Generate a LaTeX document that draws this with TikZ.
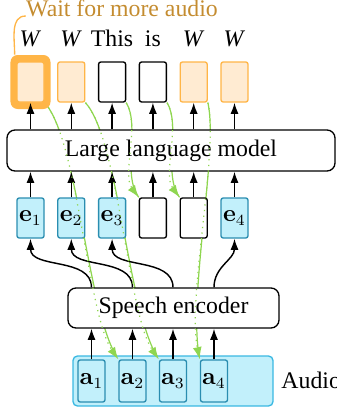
\documentclass[tikz,border=0pt]{standalone}
\usepackage[no-math]{fontspec}
\setmainfont{Liberation Serif}
\usetikzlibrary{arrows.meta,calc}
\definecolor{oFill}{HTML}{FFEBD2}
\definecolor{oBorder}{HTML}{FFB547}
\definecolor{oText}{HTML}{C48C30}
\definecolor{cFill}{HTML}{C2F0FB}
\definecolor{eBorder}{HTML}{2A8DB0}
\definecolor{aOuter}{HTML}{3AB8E2}
\definecolor{gGreen}{HTML}{8FD650}
\pgfdeclarelayer{gbase}
\pgfdeclarelayer{gdot}
\pgfdeclarelayer{top}
\pgfsetlayers{gbase,main,gdot,top}
\begin{document}
\begin{tikzpicture}[x=0.45pt,y=-0.45pt,
  every node/.append style={font=\fontsize{10.7}{13}\selectfont},
  sbox/.style={line width=0.6pt, rounded corners=1pt, minimum width=12.15pt, minimum height=18pt, inner sep=0pt},
  obox/.style={sbox, draw=oBorder, fill=oFill},
  wbox/.style={sbox, draw=black, fill=white},
  ebox/.style={sbox, draw=eBorder, fill=cFill},
  abox/.style={sbox, draw=eBorder, fill=cFill, minimum height=18.9pt},
  bigbox/.style={draw=black, fill=white, line width=0.6pt, rounded corners=3.6pt, inner sep=0pt},
  arr/.style={-{Latex[length=5pt,width=3.6pt]}, line width=0.65pt},
  gsolid/.style={draw=gGreen, line width=0.55pt},
  gdotted/.style={gsolid, dotted, -{Latex[length=5.5pt,width=4pt]}},
  lbl/.style={anchor=base, inner sep=0pt}
]
\useasboundingbox (0,0) rectangle (337,410);

% big boxes
\node[bigbox, minimum width=147.6pt, minimum height=18.45pt] (llm) at (171,150.5) {Large language model};
\node[bigbox, minimum width=94.95pt, minimum height=18pt] (enc) at (173.5,308) {Speech encoder};
\node[draw=aOuter, fill=cFill, line width=0.6pt, rounded corners=2pt, minimum width=90pt, minimum height=22.5pt, inner sep=0pt] (aud) at (173,381) {};
\node[anchor=base west, inner sep=0pt] (audl) at (281,388) {Audio};

% embedding row
\node[ebox] (e1) at (30.5,218) {$\mathbf{e}_1$};
\node[ebox] (e2) at (71.3,218) {$\mathbf{e}_2$};
\node[ebox] (e3) at (112.1,218) {$\mathbf{e}_3$};
\node[wbox] (b4) at (152.9,218) {};
\node[wbox] (b5) at (193.7,218) {};
\node[ebox] (e4) at (234.5,218) {$\mathbf{e}_4$};

% audio frames
\node[abox] (a1) at (91.5,381) {$\mathbf{a}_1$};
\node[abox] (a2) at (132.5,381) {$\mathbf{a}_2$};
\node[abox] (a3) at (173,381) {$\mathbf{a}_3$};
\node[abox] (a4) at (214,381) {$\mathbf{a}_4$};

% output row (top layer)
\begin{pgfonlayer}{top}
\node[fill=oBorder, rounded corners=3.2pt, minimum width=18pt, minimum height=24.3pt, inner sep=0pt] (hl) at (30.5,82) {};
\node[obox] (o1) at (30.5,82) {};
\node[obox] (o2) at (71.3,82) {};
\node[wbox] (o3) at (112.1,82) {};
\node[wbox] (o4) at (152.9,82) {};
\node[obox] (o5) at (193.7,82) {};
\node[obox] (o6) at (234.5,82) {};
\node[lbl] (w1) at (30.5,46) {\textit{W}};
\node[lbl] (w2) at (71.3,46) {\textit{W}};
\node[lbl] (w3) at (112.1,46) {This};
\node[lbl] (w4) at (152.9,46) {is};
\node[lbl] (w5) at (193.7,46) {\textit{W}};
\node[lbl] (w6) at (234.5,46) {\textit{W}};
\node[lbl, text=oText] (wait) at (122,16) {Wait for more audio};
\draw[oBorder, line width=0.6pt] (wait.base west) to[out=180,in=90] (hl.120);
% arrows LLM -> outputs
\foreach \i in {1,...,6} {
  \draw[arr] (o\i |- llm.north) -- (o\i.south);
}
\end{pgfonlayer}

% arrows embeddings -> LLM
\foreach \n in {e1,e2,e3,b4,b5,e4} {
  \draw[arr] (\n.north) -- (\n |- llm.south);
}
% arrows audio -> encoder
\foreach \n in {a1,a2,a3,a4} {
  \draw[arr] (\n.north) -- (\n |- enc.south);
}
% encoder -> embeddings
\draw[arr] (a1 |- enc.north) to[out=90,in=-90] (e1.south);
\draw[arr] (a2 |- enc.north) to[out=90,in=-90] (e2.south);
\draw[arr] (a3 |- enc.north) to[out=90,in=-90] (e3.south);
\draw[arr] (a4 |- enc.north) to[out=90,in=-90] (e4.south);

% green delay links: solid underneath, dotted on top
\foreach \lay/\sty in {gbase/gsolid, gdot/gdotted} {
\begin{pgfonlayer}{\lay}
\draw[\sty] (o1.south east) to[out=-48.2,in=124.6,out distance=22.9pt,in distance=24.6pt] (a2.north west);
\draw[\sty] (o2.south east) to[out=-48.2,in=124.6,out distance=22.9pt,in distance=24.6pt] (a3.north west);
\draw[\sty] (o3.south east) to[out=-58.7,in=126.5,out distance=12.1pt,in distance=12.9pt] (b4.north west);
\draw[\sty] (o4.south east) to[out=-58.7,in=126.5,out distance=12.1pt,in distance=12.9pt] (b5.north west);
\draw[\sty] (o5.south east) to[out=-77,in=102.2,out distance=22.2pt,in distance=27.6pt] (a4.north west);
\end{pgfonlayer}
}
\end{tikzpicture}
\end{document}
